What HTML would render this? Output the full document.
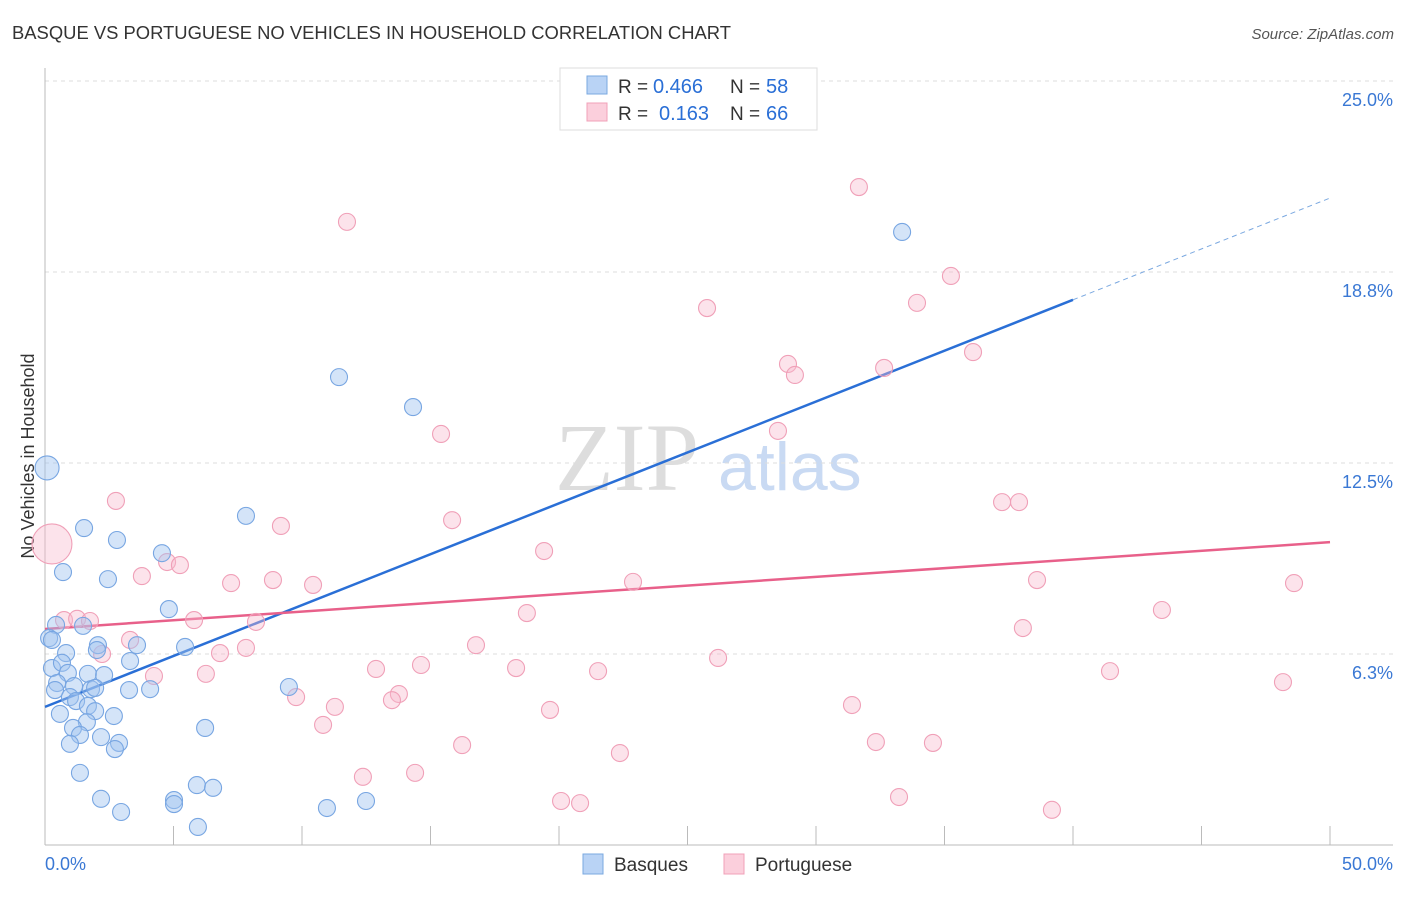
<!DOCTYPE html>
<html><head><meta charset="utf-8"><style>
body{margin:0;background:#fff;font-family:"Liberation Sans",sans-serif}
</style></head><body>
<svg id="chart" width="1406" height="892" xmlns="http://www.w3.org/2000/svg" font-family="Liberation Sans, sans-serif">
<text x="12" y="39" font-size="18" fill="#333" textLength="719" lengthAdjust="spacingAndGlyphs">BASQUE VS PORTUGUESE NO VEHICLES IN HOUSEHOLD CORRELATION CHART</text>
<text x="1394" y="39" font-size="15" fill="#555" font-style="italic" text-anchor="end">Source: ZipAtlas.com</text>
<text x="0" y="0" transform="translate(34,456) rotate(-90)" font-size="18" fill="#333" text-anchor="middle">No Vehicles in Household</text>
<g>
<text x="555" y="490" font-family="Liberation Serif, serif" font-size="96" fill="#ddd">ZIP</text>
<text x="718" y="490" font-size="68" fill="#c9daf3">atlas</text>
</g>
<g id="grid"></g><g id="axes"></g><g id="lines"></g><g id="pts"></g>
<g>
<rect x="560" y="68" width="257" height="62" fill="#fff" stroke="#ddd"/>
<rect x="587" y="76" width="20" height="18" fill="#b9d3f5" stroke="#7aa8e0"/>
<rect x="587" y="103" width="20" height="18" fill="#fbcfdc" stroke="#f0a0b8"/>
<text x="618" y="93" font-size="19" fill="#333">R =</text>
<text x="653" y="93" font-size="20" fill="#2a6fd6">0.466</text>
<text x="730" y="93" font-size="19" fill="#333">N =</text>
<text x="766" y="93" font-size="20" fill="#2a6fd6">58</text>
<text x="618" y="120" font-size="19" fill="#333">R =</text>
<text x="659" y="120" font-size="20" fill="#2a6fd6">0.163</text>
<text x="730" y="120" font-size="19" fill="#333">N =</text>
<text x="766" y="120" font-size="20" fill="#2a6fd6">66</text>
</g>
<g>
<rect x="583" y="854" width="20" height="20" fill="#b9d3f5" stroke="#7aa8e0"/>
<text x="614" y="871" font-size="19" fill="#333">Basques</text>
<rect x="724" y="854" width="20" height="20" fill="#fbcfdc" stroke="#f0a0b8"/>
<text x="755" y="871" font-size="19" fill="#333">Portuguese</text>
</g>
</svg>
<script>
const yTicks=[6.25,12.5,18.75,25];
const yTickLabels=["6.3%","12.5%","18.8%","25.0%"];
const xTickLabels=["0.0%","50.0%"];
const blueX=[0.08,1.52,2.80,0.70,2.45,4.55,7.82,11.44,14.32,33.35,4.82,0.43,1.48,0.16,0.27,2.06,3.58,5.45,0.82,2.02,3.31,0.27,0.66,0.89,1.67,2.30,0.47,1.13,1.79,1.95,0.39,3.27,4.09,9.49,0.97,1.21,1.67,1.95,0.58,2.68,1.63,1.09,1.36,2.18,0.97,2.88,2.72,6.23,1.36,2.18,5.02,5.02,5.91,6.54,2.96,10.97,12.49,5.95];
const blueY=[12.34,10.37,9.98,8.93,8.70,9.55,10.77,15.31,14.33,20.06,7.72,7.20,7.17,6.77,6.71,6.54,6.54,6.48,6.28,6.38,6.02,5.79,5.96,5.63,5.60,5.56,5.30,5.20,5.10,5.14,5.07,5.07,5.10,5.17,4.84,4.71,4.55,4.38,4.29,4.22,4.02,3.83,3.60,3.53,3.31,3.34,3.14,3.83,2.36,1.51,1.47,1.34,1.96,1.87,1.08,1.21,1.44,0.59];
const pinkX=[0.27,11.75,31.67,35.25,33.93,25.76,28.91,29.18,32.65,36.11,15.41,28.52,2.76,9.18,15.84,37.24,37.90,19.42,4.75,5.25,3.77,7.24,8.87,10.43,22.88,38.60,48.60,43.46,5.80,0.74,1.25,1.75,8.21,18.75,3.31,2.22,6.81,7.82,16.77,38.05,26.19,12.88,14.63,18.33,21.52,41.44,4.24,6.26,48.17,9.77,13.77,13.50,11.28,19.65,31.40,10.82,16.23,32.33,34.55,22.37,12.37,14.40,20.08,20.82,33.23,39.18];
const pinkY=[9.85,20.39,21.53,18.62,17.74,17.57,15.74,15.38,15.61,16.13,13.45,13.55,11.26,10.44,10.63,11.22,11.22,9.62,9.26,9.16,8.80,8.57,8.67,8.51,8.61,8.67,8.57,7.69,7.36,7.36,7.40,7.33,7.30,7.59,6.71,6.25,6.28,6.45,6.54,7.10,6.12,5.76,5.89,5.79,5.69,5.69,5.53,5.60,5.33,4.84,4.94,4.74,4.52,4.42,4.58,3.93,3.27,3.37,3.34,3.01,2.23,2.36,1.44,1.37,1.57,1.15];
const blueTrend=[4.52,0.333];
const pinkTrend=[7.07,0.0568];
const NS="http://www.w3.org/2000/svg";
const X=v=>45+v*25.7, Y=v=>845-v*30.56;
function mk(t,a,p){const e=document.createElementNS(NS,t);for(const k in a)e.setAttribute(k,a[k]);p.appendChild(e);return e;}
const grid=document.getElementById('grid'),axes=document.getElementById('axes'),lines=document.getElementById('lines'),pts=document.getElementById('pts');
yTicks.forEach((v,i)=>{
 const l=mk('line',{x1:45,x2:1393,y1:Y(v),y2:Y(v),stroke:'#ddd','stroke-dasharray':'4,4'},grid);
 
 
 const t=mk('text',{x:1393,y:Y(v)+25,'font-size':18,fill:'#3a78d4','text-anchor':'end'},grid);t.textContent=yTickLabels[i];
 
 
});
mk('line',{x1:45,x2:45,y1:68,y2:845,stroke:'#bbb'},axes);
mk('line',{x1:45,x2:1393,y1:845,y2:845,stroke:'#bbb'},axes);
for(let i=1;i<=10;i++){const t=mk('line',{x1:X(i*5),x2:X(i*5),y1:826,y2:845,stroke:'#bbb'},axes);
 
 }
[[45,'start',0],[1393,'end',1]].forEach(([x,a,i])=>{const t=mk('text',{x:x,y:870,'font-size':18,fill:'#3a78d4','text-anchor':a},axes);t.textContent=xTickLabels[i];
 
 });
const bl=mk('line',{x1:X(0),y1:Y(blueTrend[0]),x2:X(40),y2:Y(blueTrend[0]+40*blueTrend[1]),stroke:'#2a6fd6','stroke-width':2.5},lines);


const bd=mk('line',{x1:X(40),y1:Y(blueTrend[0]+40*blueTrend[1]),x2:X(50),y2:Y(blueTrend[0]+50*blueTrend[1]),stroke:'#7aa8e0','stroke-width':1,'stroke-dasharray':'5,4'},lines);


const pl=mk('line',{x1:X(0),y1:Y(pinkTrend[0]),x2:X(50),y2:Y(pinkTrend[0]+50*pinkTrend[1]),stroke:'#e8608a','stroke-width':2.5},lines);


pinkX.forEach((x,i)=>{const c=mk('circle',{cx:X(x),cy:Y(pinkY[i]),r:i==0?20:8.5,fill:'rgba(248,185,205,0.4)',stroke:'#f0a0b8','stroke-width':1.1},pts);
 
 });
blueX.forEach((x,i)=>{const c=mk('circle',{cx:X(x),cy:Y(blueY[i]),r:i==0?12:8.5,fill:'rgba(160,196,240,0.45)',stroke:'#78a6e2','stroke-width':1.1},pts);
 
 });
</script>
</body></html>
